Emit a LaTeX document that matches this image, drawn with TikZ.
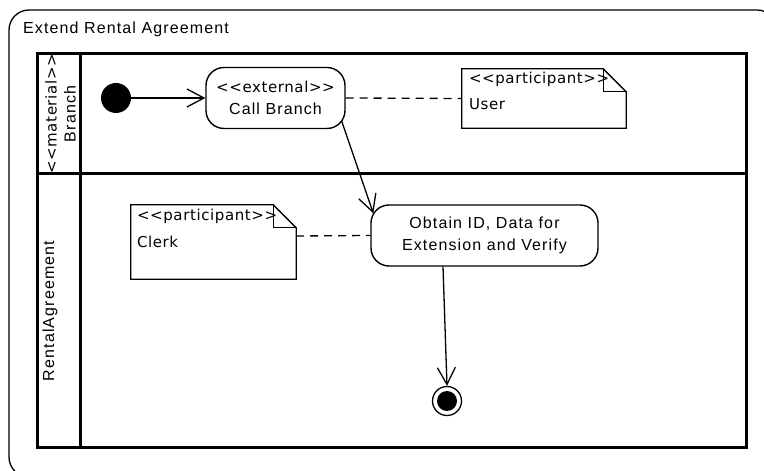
\documentclass[tikz,border=0pt]{standalone}
\usepackage{fontspec}
\setmainfont{Liberation Sans}[LetterSpace=7]
\newfontfamily\notefont{DejaVu Sans}[LetterSpace=4]
\usetikzlibrary{arrows.meta,calc}
\tikzset{
  base/.style={font=\fontsize{16bp}{22bp}\selectfont},
  poolline/.style={line width=3bp},
  act/.style={draw, line width=1.4bp, rounded corners=18bp, align=center, inner sep=0pt, base},
  notebox/.style={inner sep=0pt},
  noteline/.style={line width=1.3bp, line join=miter},
  notetext/.style={font=\notefont\fontsize{15bp}{20bp}\selectfont, inner sep=0pt},
  flow/.style={line width=1.3bp, -{Straight Barb[length=17bp,width=18bp,line width=1.3bp]}},
  assoc/.style={line width=1.3bp, dash pattern=on 8bp off 6bp},
  lanelabel/.style={rotate=90, inner sep=0pt, base}
}
\begin{document}
\begin{tikzpicture}[x=1bp,y=-1bp]
\useasboundingbox (0,0) rectangle (764,471);
\clip (0,0) rectangle (764,471);
% outer frame
\draw[line width=1.3bp, rounded corners=20bp] (9,10) rectangle (777,477);
\node[base, anchor=base west, inner sep=0pt] (title) at (23,34) {Extend Rental Agreement};
% pool
\draw[poolline] (37,54) rectangle (746,447);
\draw[poolline] (80,54) -- (80,447);
\draw[poolline] (37,174) -- (746,174);
\node[lanelabel, font=\notefont\fontsize{15bp}{20bp}\selectfont] (mat) at (51,114) {<{}<material>{}>};
\node[lanelabel] (br) at (70,114) {Branch};
\node[lanelabel] (ra) at (50,311) {RentalAgreement};
% nodes
\node[circle, fill, minimum size=30bp, inner sep=0pt] (init) at (116,98) {};
\node[act, minimum width=139bp, minimum height=61bp] (cb) at (275.5,98)
  {{\notefont\fontsize{15bp}{22bp}\selectfont <{}<external>{}>}\\Call Branch};
\node[act, minimum width=227bp, minimum height=61bp] (ob) at (484.5,235.5)
  {Obtain ID, Data for\\Extension and Verify};
\node[circle, draw, line width=1.3bp, minimum size=29bp, inner sep=0pt] (fin) at (447,401) {};
\node[circle, fill, minimum size=20bp, inner sep=0pt] (finin) at (447,401) {};
% notes
\node[notebox, minimum width=164bp, minimum height=59bp] (user) at (544,98.5) {};
\draw[noteline] (user.north west) -- ($(user.north east)+(-23bp,0)$) -- ($(user.north east)+(0,-23bp)$)
  -- (user.south east) -- (user.south west) -- cycle;
\draw[noteline] ($(user.north east)+(-23bp,0)$) -- ++(0,-23bp) -- ++(23bp,0);
\node[notetext, anchor=west] (ut1) at ($(user.north west)+(7bp,-11bp)$) {<{}<participant>{}>};
\node[notetext, anchor=west] (ut2) at ($(user.north west)+(7bp,-35bp)$) {User};
\node[notebox, minimum width=165bp, minimum height=74bp] (clerk) at (213.5,242) {};
\draw[noteline] (clerk.north west) -- ($(clerk.north east)+(-23bp,0)$) -- ($(clerk.north east)+(0,-23bp)$)
  -- (clerk.south east) -- (clerk.south west) -- cycle;
\draw[noteline] ($(clerk.north east)+(-23bp,0)$) -- ++(0,-23bp) -- ++(23bp,0);
\node[notetext, anchor=west] (ct1) at ($(clerk.north west)+(6bp,-12bp)$) {<{}<participant>{}>};
\node[notetext, anchor=west] (ct2) at ($(clerk.north west)+(6bp,-37bp)$) {Clerk};
% connectors
\draw[flow] (init.east) -- (cb.west);
\draw[flow] ($(cb.south east)+(-4bp,8bp)$) -- ($(ob.north west)+(3bp,-9bp)$);
\draw[flow] ($(ob.south)+(-41.5bp,0)$) -- (fin.north);
\draw[assoc] (cb.east) -- (user.west);
\draw[assoc] ($(clerk.east)+(0,6bp)$) -- (ob.west);
\end{tikzpicture}
\end{document}
